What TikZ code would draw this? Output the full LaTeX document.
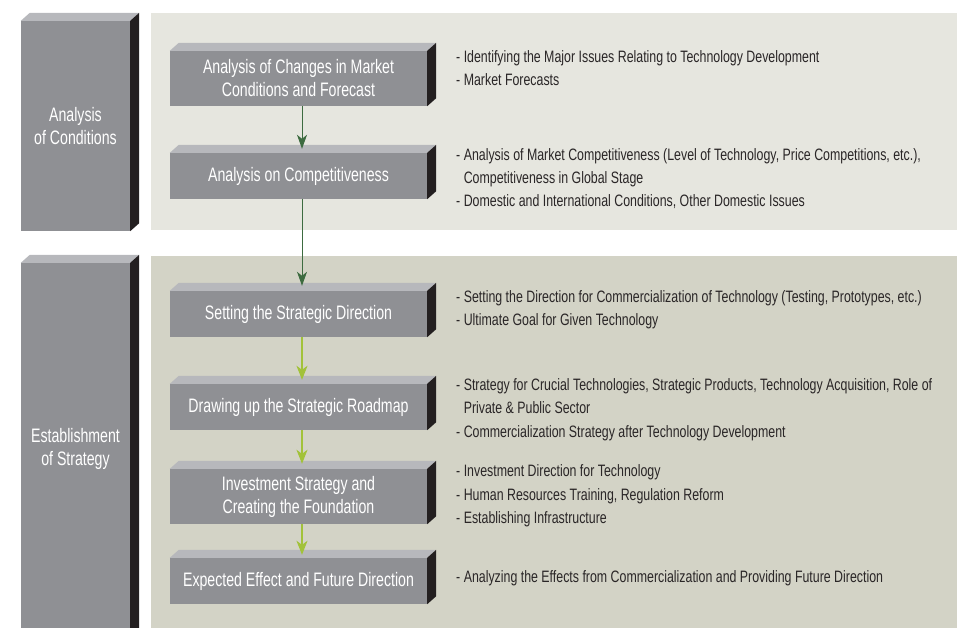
\documentclass[tikz,border=0pt]{standalone}
\usepackage{fontspec}
\setmainfont{Liberation Sans}[FakeStretch=0.75]
\newfontfamily\boxfont{Liberation Sans}[FakeStretch=0.725]
\usetikzlibrary{arrows.meta}
\definecolor{panelA}{HTML}{E6E6DF}
\definecolor{panelB}{HTML}{D3D3C6}
\definecolor{boxfront}{HTML}{8F9094}
\definecolor{boxtop}{HTML}{B7B8BC}
\definecolor{boxside}{HTML}{231F20}
\definecolor{darkarrow}{HTML}{3D6B40}
\definecolor{lightarrow}{HTML}{A2C23A}
\definecolor{bodytext}{HTML}{2A2627}
\tikzset{
  frontface/.style={fill=boxfront, draw=none, inner sep=0pt, text=white, align=center},
  steptext/.style={font=\boxfont\fontsize{19.5}{23}\selectfont},
  sidetext/.style={font=\boxfont\fontsize{19.5}{23.5}\selectfont},
  desc/.style={anchor=west, inner sep=0pt, align=left, text=bodytext, font=\fontsize{16.5}{23.3}\selectfont},
  flowdark/.style={draw=darkarrow, line width=1pt, -{Stealth[length=14pt,width=10pt,inset=4pt]}},
  flowlight/.style={draw=lightarrow, line width=1.3pt, -{Stealth[length=14pt,width=11pt,inset=4pt]}},
}
\newcommand\solidbox[7]{%
  \node[frontface,#6,minimum width={(#4-#2)*1pt},minimum height={(#5-#3)*1pt}] (#1) at ({(#2+#4)/2},{(#3+#5)/2}) {#7};
  \fill[boxtop] (#1.north west) -- ++(9,-8) -- ([shift={(9,-8)}]#1.north east) -- (#1.north east) -- cycle;
  \fill[boxside] (#1.north east) -- ++(9,-8) -- ([shift={(9,-8)}]#1.south east) -- (#1.south east) -- cycle;
}
\begin{document}
\begin{tikzpicture}[x=1pt,y=-1pt]
\useasboundingbox (0,0) rectangle (957,628);
\begin{scope}
\clip (0,0) rectangle (957,628);
% panels
\fill[panelA] (151,13) rectangle (957,230);
\fill[panelB] (151,256) rectangle (957,640);
% left phase boxes
\solidbox{phaseA}{21}{21}{130}{231}{sidetext}{Analysis\\of Conditions}
\solidbox{phaseB}{21}{263}{130}{650}{sidetext}{}
\end{scope}
\node[sidetext, text=white, align=center, inner sep=0pt] (phaseBlabel) at (75.5,449) {Establishment\\of Strategy};
% step boxes
\solidbox{b1}{170}{51}{427}{106}{steptext}{Analysis of Changes in Market\\Conditions and Forecast}
\solidbox{b2}{170}{153}{427}{199}{steptext}{Analysis on Competitiveness}
\solidbox{b3}{170}{291}{427}{337}{steptext}{Setting the Strategic Direction}
\solidbox{b4}{170}{384}{427}{430}{steptext}{Drawing up the Strategic Roadmap}
\solidbox{b5}{170}{469}{427}{524}{steptext}{Investment Strategy and\\Creating the Foundation}
\solidbox{b6}{170}{558}{427}{604}{steptext}{Expected Effect and Future Direction}
% arrows
\draw[flowdark] ([xshift=3.5pt]b1.south) -- ([xshift=3.5pt,yshift=4pt]b2.north);
\draw[flowdark] ([xshift=3.5pt]b2.south) -- ([xshift=3.5pt,yshift=5pt]b3.north);
\draw[flowlight] ([xshift=3.5pt]b3.south) -- ([xshift=3.5pt,yshift=4pt]b4.north);
\draw[flowlight] ([xshift=3.5pt]b4.south) -- ([xshift=3.5pt,yshift=5pt]b5.north);
\draw[flowlight] ([xshift=3.5pt]b5.south) -- ([xshift=3.5pt,yshift=3pt]b6.north);
% descriptions
\node[desc] (d1) at (456,68.3) {- Identifying the Major Issues Relating to Technology Development\\- Market Forecasts};
\node[desc] (d2) at (456,178.5) {- Analysis of Market Competitiveness (Level of Technology, Price Competitions, etc.),\\\phantom{- }Competitiveness in Global Stage\\- Domestic and International Conditions, Other Domestic Issues};
\node[desc] (d3) at (456,310) {- Setting the Direction for Commercialization of Technology (Testing, Prototypes, etc.)\\- Ultimate Goal for Given Technology};
\node[desc] (d4) at (456,409.5) {- Strategy for Crucial Technologies, Strategic Products, Technology Acquisition, Role of\\\phantom{- }Private \& Public Sector\\- Commercialization Strategy after Technology Development};
\node[desc] (d5) at (456,496) {- Investment Direction for Technology\\- Human Resources Training, Regulation Reform\\- Establishing Infrastructure};
\node[desc] (d6) at (456,578) {- Analyzing the Effects from Commercialization and Providing Future Direction};
\end{tikzpicture}
\end{document}
